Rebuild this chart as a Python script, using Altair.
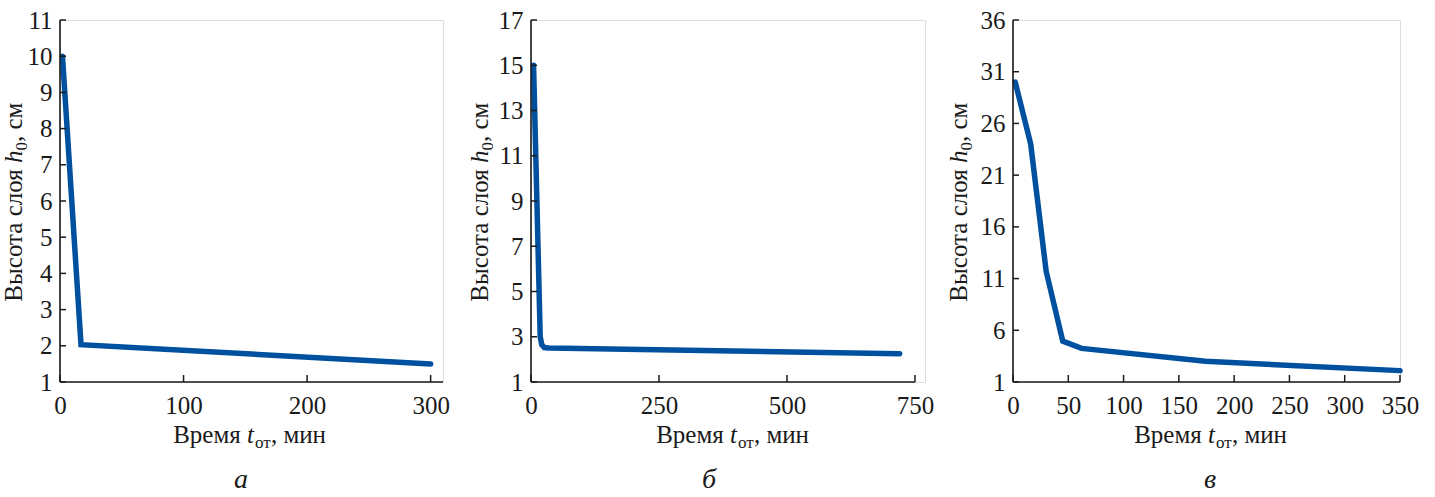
import altair as alt
import pandas as pd

FONT = "Liberation Serif"
INK = "#1a1a1a"
LINE = "#0050a0"
FS = 25
SUB = 17

# panel а
a_time = [2, 17, 300]
a_height = [10.0, 2.03, 1.5]
a_xticks = [0, 100, 200, 300]
a_yticks = [1, 2, 3, 4, 5, 6, 7, 8, 9, 10, 11]

# panel б
b_time = [5, 18, 21, 26, 35, 720]
b_height = [15.0, 3.0, 2.65, 2.52, 2.5, 2.25]
b_xticks = [0, 250, 500, 750]
b_yticks = [1, 3, 5, 7, 9, 11, 13, 15, 17]

# panel в
c_time = [2, 16, 30, 45, 62, 174, 350]
c_height = [30.0, 24.0, 11.7, 4.95, 4.25, 3.0, 2.1]
c_xticks = [0, 50, 100, 150, 200, 250, 300, 350]
c_yticks = [1, 6, 11, 16, 21, 26, 31, 36]

x_title = ["Время", "t", "от", ", мин"]
y_title = ["Высота слоя", "h", "0", ", см"]
letters = ["а", "б", "в"]

H = 362


def txt(text, x, y, align="left", angle=0, dx=0, dy=0, size=FS, style="normal"):
    return alt.Chart(pd.DataFrame({"k": [0]})).mark_text(
        text=text, align=align, baseline="alphabetic", angle=angle, dx=dx, dy=dy,
        font=FONT, fontSize=size, fontStyle=style, color=INK,
    ).encode(x=alt.value(x), y=alt.value(y))


def frame(x, x2, y, y2):
    return alt.Chart(pd.DataFrame({"k": [0]})).mark_rule(
        color=INK, strokeWidth=1.6
    ).encode(x=alt.value(x), x2=alt.value(x2), y=alt.value(y), y2=alt.value(y2))


def panel(times, heights, xdom, xticks, ydom, yticks, width, rng,
          ytx, ytc, xtc, letter, lx):
    df = pd.DataFrame({"t": times, "h": heights})
    xs = alt.Scale(domain=xdom, range=[0, rng], nice=False, zero=False)
    ys = alt.Scale(domain=ydom, nice=False, zero=False)
    common = dict(title=None, ticks=False, grid=False, domain=False,
                  labelFont=FONT, labelFontSize=FS, labelColor=INK,
                  labelOverlap=False, labelFlush=False)
    xaxis = alt.Axis(values=xticks, labelPadding=11, **common)
    yaxis = alt.Axis(values=yticks, labelPadding=8, **common)
    line = alt.Chart(df).mark_line(
        color=LINE, strokeWidth=5.5, strokeCap="round", strokeJoin="miter", clip=False
    ).encode(
        x=alt.X("t:Q", scale=xs, axis=xaxis),
        y=alt.Y("h:Q", scale=ys, axis=yaxis),
    )
    xt = alt.Chart(pd.DataFrame({"t": xticks})).mark_rule(
        color=INK, strokeWidth=1.5
    ).encode(x=alt.X("t:Q", scale=xs, axis=xaxis), y=alt.value(H), y2=alt.value(H - 7))
    yt = alt.Chart(pd.DataFrame({"h": yticks})).mark_rule(
        color=INK, strokeWidth=1.5
    ).encode(y=alt.Y("h:Q", scale=ys, axis=yaxis), x=alt.value(0), x2=alt.value(6))
    dom_x = frame(0, rng, H, H)
    dom_y = frame(0, 0, 0, H)

    # y title (rotated), anchor at start of italic letter
    sp = 0.25 * FS
    hw = 0.5 * FS
    ya = ytc - 40
    yl = [
        txt(y_title[0], ytx, ya, align="right", angle=270, dx=-sp),
        txt(y_title[1], ytx, ya, angle=270, style="italic"),
        txt(y_title[2], ytx, ya, angle=270, dx=hw, dy=5, size=SUB),
        txt(y_title[3], ytx, ya, angle=270, dx=hw + 0.5 * SUB),
    ]
    # x title
    tw = 0.278 * FS + 1
    xa = xtc - 2
    xb = 423
    xl = [
        txt(x_title[0], xa, xb, align="right", dx=-sp),
        txt(x_title[1], xa, xb, style="italic"),
        txt(x_title[2], xa, xb, dx=tw, dy=5, size=SUB),
        txt(x_title[3], xa, xb, dx=tw + 0.937 * SUB),
    ]
    lab = txt(letter, lx, 468, align="center", size=28, style="italic")
    return alt.layer(line, xt, yt, dom_x, dom_y, *yl, *xl, lab).properties(
        width=width, height=H)


pa = panel(a_time, a_height, [0, 310], a_xticks, [1, 11], a_yticks, 383, 383,
           -38, 183, 189, letters[0], 181)
pb = panel(b_time, b_height, [0, 750], b_xticks, [1, 17], b_yticks, 394, 384,
           -43, 183, 201, letters[1], 178)
pc = panel(c_time, c_height, [0, 350], c_xticks, [1, 36], c_yticks, 387, 387,
           -46, 183, 197, letters[2], 197)

chart = alt.hconcat(pa, pb, pc, spacing=88, bounds="flush").properties(
    padding={"left": 1, "top": 7, "right": 5, "bottom": 0}
).configure_view(stroke=None).configure(background="white")

chart.save("out.html", embed_options={"renderer": "svg", "actions": False})
